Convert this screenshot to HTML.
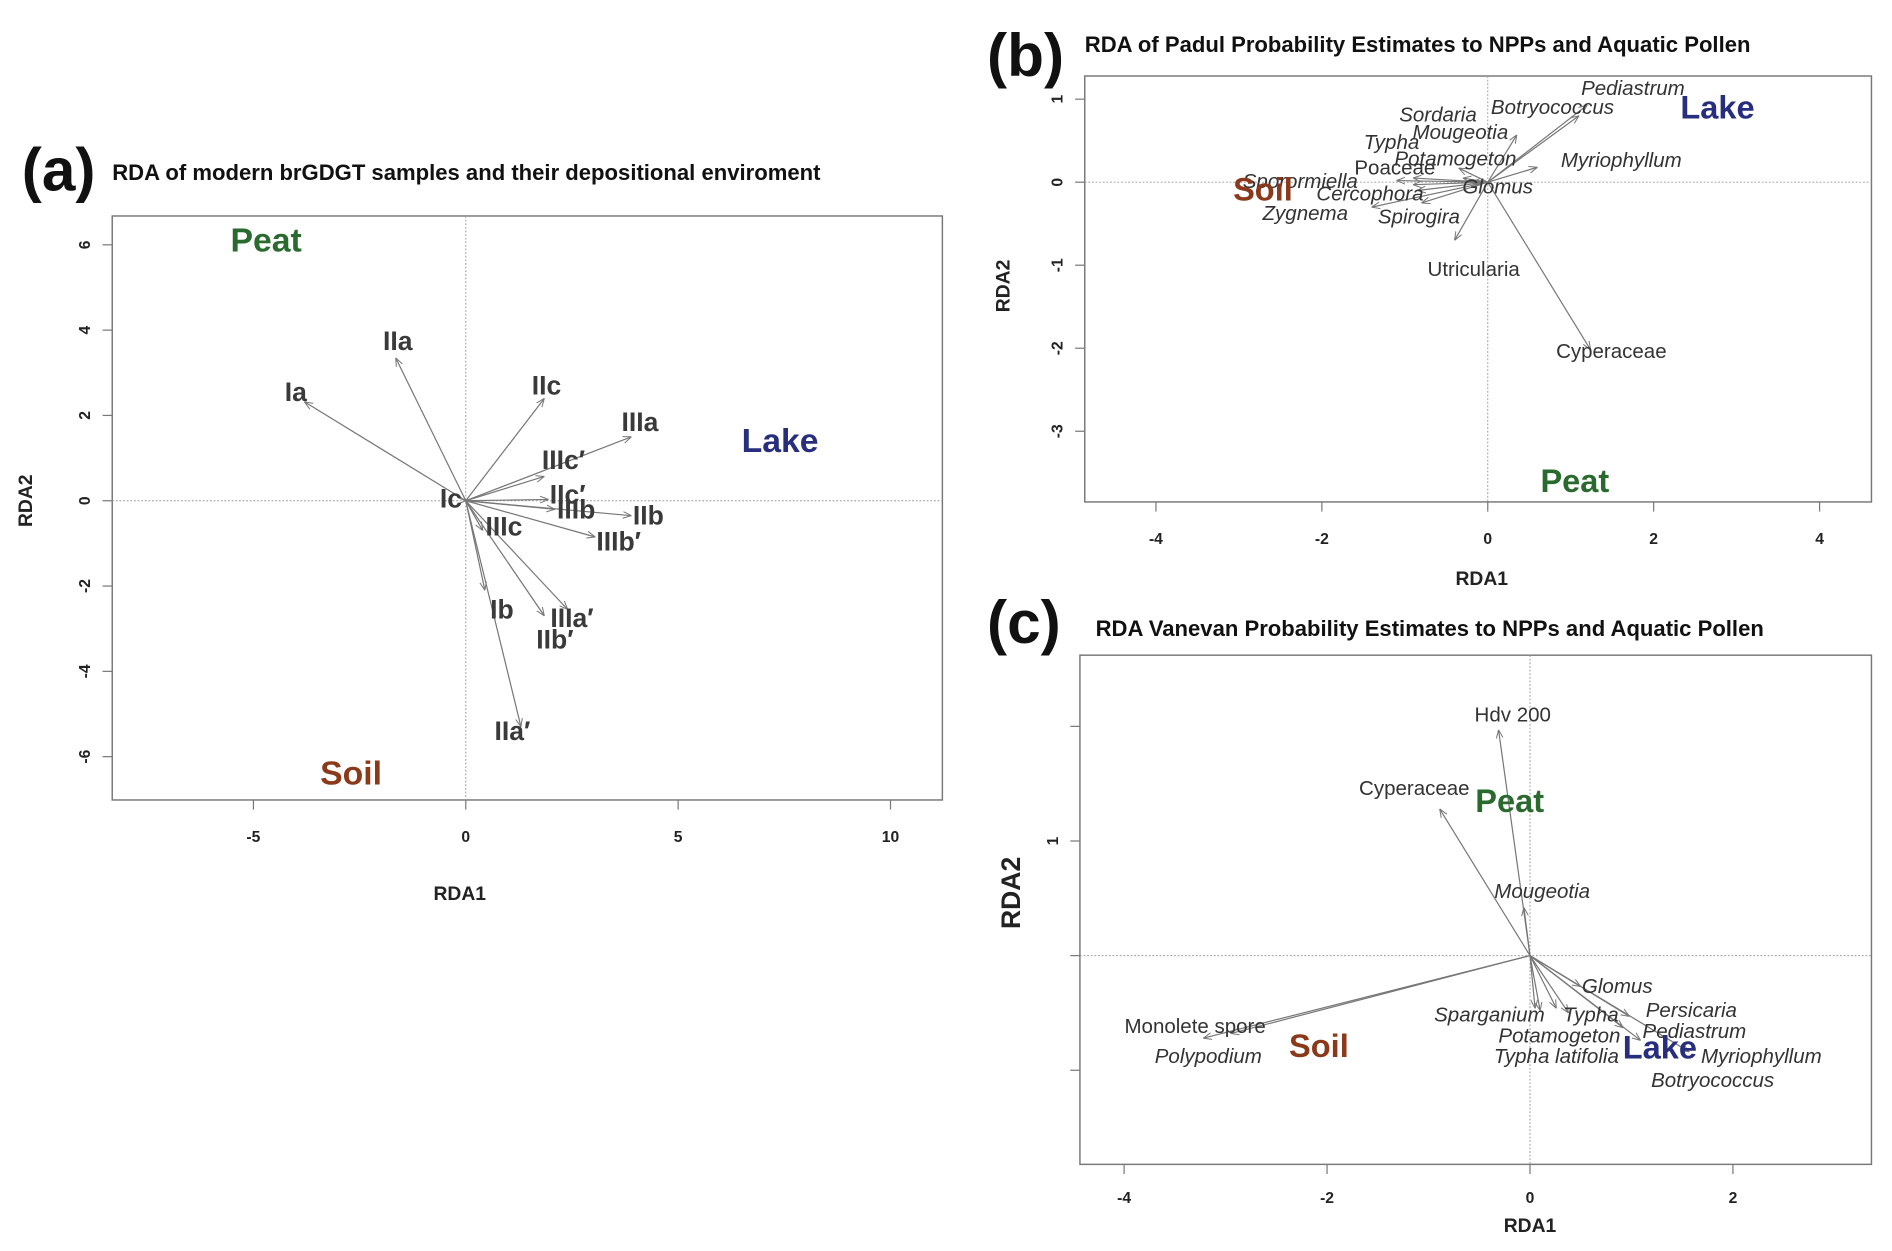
<!DOCTYPE html>
<html><head><meta charset="utf-8">
<style>
html,body{margin:0;padding:0;background:#fff;}
svg{display:block;}
text{font-family:"Liberation Sans",sans-serif;}
</style></head>
<body>
<svg id="fig" width="1892" height="1251" viewBox="0 0 1568 1036.8" xmlns="http://www.w3.org/2000/svg"></svg>
<script>
// ---------- Panel (a) data ----------
const aNames = ["Ia","IIa","IIc","IIIa","IIIc′","IIc′","IIIb","IIb","IIIb′","IIIc","IIIa′","IIb′","Ib","IIa′","Ic"];
const aX = [-3.8,-1.65,1.85,3.9,1.85,1.95,2.1,3.9,3.05,0.4,2.4,1.85,0.45,1.3,0];
const aY = [2.32,3.35,2.4,1.5,0.57,0.03,-0.2,-0.35,-0.85,-0.7,-2.55,-2.7,-2.1,-5.3,0];
const aLx = [-4.0,-1.6,1.9,4.1,2.3,2.4,2.6,4.3,3.6,0.9,2.5,2.1,0.85,1.1,-0.35];
const aLy = [2.55,3.75,2.7,1.85,0.95,0.15,-0.2,-0.35,-0.95,-0.6,-2.75,-3.25,-2.55,-5.4,0.05];
const aEnv = ["Peat","Lake","Soil"];
const aEnvX = [-4.7,7.4,-2.7];
const aEnvY = [6.1,1.4,-6.4];
const aXTicks = [-5,0,5,10];
const aYTicks = [6,4,2,0,-2,-4,-6];

// ---------- Panel (b) data ----------
const bNames = ["Pediastrum","Botryococcus","Sordaria","Mougeotia","Typha","Potamogeton","Poaceae","Myriophyllum","Sporormiella","Cercophora","Glomus","Zygnema","Spirogira","Utricularia","Cyperaceae"];
const bX = [1.2,1.1,-0.3,0.35,-0.9,-0.35,-1.1,0.6,-0.9,-0.8,-0.2,-1.4,-0.85,-0.4,1.24];
const bY = [0.93,0.8,0.05,0.57,0.05,0.17,0.02,0.18,-0.03,-0.25,0.0,-0.3,-0.1,-0.7,-2.02];
const bLx = [1.75,0.78,-0.6,-0.33,-1.16,-0.39,-1.12,1.61,-2.26,-1.42,0.12,-2.2,-0.83,-0.17,1.49];
const bLy = [1.13,0.9,0.81,0.6,0.48,0.28,0.17,0.26,0.01,-0.14,-0.06,-0.38,-0.42,-1.05,-2.04];
const bItalic = [1,1,1,1,1,1,0,1,1,1,1,1,1,0,0];
const bEnv = ["Lake","Soil","Peat"];
const bEnvX = [2.77,-2.71,1.05];
const bEnvY = [0.9,-0.09,-3.6];
const bXTicks = [-4,-2,0,2,4];
const bYTicks = [1,0,-1,-2,-3];

// ---------- Panel (c) data ----------
const cNames = ["Hdv 200","Cyperaceae","Mougeotia","Monolete spore","Polypodium","Glomus","Sparganium","Typha","Persicaria","Pediastrum","Potamogeton","Typha latifolia","Myriophyllum","Botryococcus"];
const cX = [-0.31,-0.89,-0.06,-3.22,-2.95,0.5,0.05,0.26,0.98,0.92,0.38,0.1,1.57,1.09];
const cY = [1.97,1.28,0.42,-0.72,-0.68,-0.27,-0.46,-0.46,-0.53,-0.63,-0.5,-0.48,-0.84,-0.74];
const cLx = [-0.17,-1.14,0.12,-3.3,-3.17,0.86,-0.4,0.6,1.59,1.62,0.29,0.26,2.28,1.8];
const cLy = [2.1,1.46,0.56,-0.62,-0.88,-0.27,-0.52,-0.52,-0.48,-0.66,-0.7,-0.88,-0.88,-1.09];
const cItalic = [0,0,1,0,1,1,1,1,1,1,1,1,1,1];
const cEnv = ["Peat","Lake","Soil"];
const cEnvX = [-0.2,1.28,-2.08];
const cEnvY = [1.35,-0.8,-0.79];
const cXTicks = [-4,-2,0,2];
const cYTicks = [2,1,0,-1];
const cYTickLabels = ["","1","",""];

const envColor = {Peat:"#2a6a2e",Lake:"#272e7d",Soil:"#8a3a1a"};
const NS = "http://www.w3.org/2000/svg";
const svg = document.getElementById("fig");

function mk(tag, attrs, parent, txt){
  const e = document.createElementNS(NS, tag);
  for (const k in attrs) e.setAttribute(k, attrs[k]);
  if (txt !== undefined) e.textContent = txt;
  (parent||svg).appendChild(e);
  return e;
}

const defs = mk("defs",{});
const mark = mk("marker",{id:"ah",viewBox:"0 0 10 10",refX:"10",refY:"5",markerWidth:"7",markerHeight:"7",orient:"auto-start-reverse",markerUnits:"userSpaceOnUse"},defs);
mk("path",{d:"M0,1 L10,5 L0,9",fill:"none",stroke:"#777","stroke-width":"1.2"},mark);

function panel(cfg){
  const g = mk("g",{});
  
  
  const sx = v => cfg.ox + v*cfg.kx;
  const sy = v => cfg.oy - v*cfg.ky;
  const box = mk("rect",{x:cfg.x0,y:cfg.y0,width:cfg.x1-cfg.x0,height:cfg.y1-cfg.y0,fill:"none",stroke:"#777","stroke-width":"1.2"},g);
  
  
  const zx = mk("line",{x1:cfg.x0,x2:cfg.x1,y1:sy(0),y2:sy(0),stroke:"#999","stroke-width":"0.8","stroke-dasharray":"1.5,1.5"},g);
  
  
  const zy = mk("line",{x1:sx(0),x2:sx(0),y1:cfg.y0,y2:cfg.y1,stroke:"#999","stroke-width":"0.8","stroke-dasharray":"1.5,1.5"},g);
  
  
  cfg.xt.forEach(t=>{
    const X = sx(t);
    const tl = mk("line",{x1:X,x2:X,y1:cfg.y1,y2:cfg.y1+8,stroke:"#777","stroke-width":"1"},g);
    
    
    const tt = mk("text",{x:X,y:cfg.y1+cfg.xtOff,"text-anchor":"middle","font-size":"13","font-weight":"bold",fill:"#222"},g,String(t));
    
    
  });
  cfg.yt.forEach((t,i)=>{
    const Y = sy(t);
    const tl = mk("line",{x1:cfg.x0-8,x2:cfg.x0,y1:Y,y2:Y,stroke:"#777","stroke-width":"1"},g);
    
    
    const lab = cfg.ytl ? cfg.ytl[i] : String(t);
    if (lab){
      const tx = cfg.x0-22;
      const tt = mk("text",{x:tx,y:Y,"text-anchor":"middle","font-size":"13","font-weight":"bold",fill:"#222",transform:`rotate(-90 ${tx} ${Y})`,"dominant-baseline":"central"},g,lab);
      
      
    }
  });
  cfg.names.forEach((n,i)=>{
    const ar = mk("line",{x1:sx(0),y1:sy(0),x2:sx(cfg.xs[i]),y2:sy(cfg.ys[i]),stroke:"#777","stroke-width":"1","marker-end":"url(#ah)"},g);
    
    
  });
  cfg.names.forEach((n,i)=>{
    const it = cfg.it ? cfg.it[i] : 0;
    const lb = mk("text",{x:sx(cfg.lx[i]),y:sy(cfg.ly[i]),"text-anchor":"middle","dominant-baseline":"central","font-size":cfg.fs,"font-weight":cfg.fw,"font-style":it?"italic":"normal",fill:cfg.lc},g,n);
    
    
  });
  cfg.env.forEach((n,i)=>{
    const lb = mk("text",{x:sx(cfg.ex[i]),y:sy(cfg.ey[i]),"text-anchor":"middle","dominant-baseline":"central","font-size":cfg.efs,"font-weight":"bold",fill:envColor[n]},g,n);
    
    
  });
  const xl = mk("text",{x:cfg.xlx,y:cfg.xly,"text-anchor":"middle","font-size":"16","font-weight":"bold",fill:"#222"},g,"RDA1");
  
  
  const yl = mk("text",{x:cfg.ylx,y:cfg.yly,"text-anchor":"middle","dominant-baseline":"central","font-size":cfg.ylfs,"font-weight":"bold",fill:"#222",transform:`rotate(-90 ${cfg.ylx} ${cfg.yly})`},g,"RDA2");
  
  
  const pl = mk("text",{x:cfg.plx,y:cfg.ply,"font-size":"50","font-weight":"bold",fill:"#111"},g,cfg.pl);
  
  
  const ti = mk("text",{x:cfg.tx,y:cfg.ty,"font-size":"18.3","font-weight":"bold",fill:"#111"},g,cfg.title);
  
  
}

panel({name:"panel-a",x0:93,x1:781,y0:179,y1:663,ox:386,oy:415,kx:35.2,ky:35.35,
  xt:aXTicks,yt:aYTicks,xtOff:35,names:aNames,xs:aX,ys:aY,lx:aLx,ly:aLy,fs:"22",fw:"bold",lc:"#3a3a3a",
  env:aEnv,ex:aEnvX,ey:aEnvY,efs:"28",xlx:381,xly:746,ylx:22,yly:415,ylfs:"16",
  pl:"(a)",plx:18,ply:158,title:"RDA of modern brGDGT samples and their depositional enviroment",tx:93,ty:149});

panel({name:"panel-b",x0:899,x1:1551,y0:63,y1:416,ox:1233,oy:151,kx:68.75,ky:68.8,
  xt:bXTicks,yt:bYTicks,xtOff:35,names:bNames,xs:bX,ys:bY,lx:bLx,ly:bLy,it:bItalic,fs:"17",fw:"normal",lc:"#333",
  env:bEnv,ex:bEnvX,ey:bEnvY,efs:"27",xlx:1228,xly:485,ylx:832,yly:237,ylfs:"16",
  pl:"(b)",plx:818,ply:63,title:"RDA of Padul Probability Estimates to NPPs and Aquatic Pollen",tx:899,ty:43});

panel({name:"panel-c",x0:895,x1:1551,y0:543,y1:965,ox:1268,oy:792,kx:84.1,ky:95,
  xt:cXTicks,yt:cYTicks,ytl:cYTickLabels,xtOff:32,names:cNames,xs:cX,ys:cY,lx:cLx,ly:cLy,it:cItalic,fs:"17",fw:"normal",lc:"#333",
  env:cEnv,ex:cEnvX,ey:cEnvY,efs:"27",xlx:1268,xly:1021,ylx:838,yly:740,ylfs:"22",
  pl:"(c)",plx:818,ply:533,title:"RDA Vanevan Probability Estimates to NPPs and Aquatic Pollen",tx:908,ty:527});
</script>
</body></html>
